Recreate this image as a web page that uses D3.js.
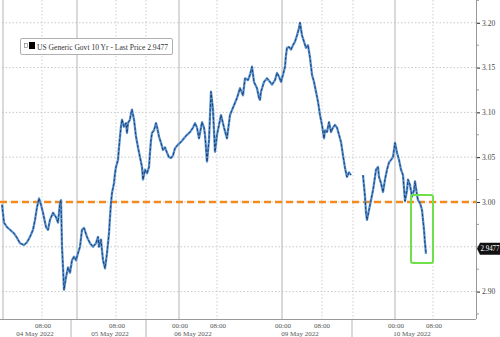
<!DOCTYPE html>
<html><head><meta charset="utf-8">
<script src="https://cdn.jsdelivr.net/npm/d3@7/dist/d3.min.js"></script>
<style>body{margin:0;background:#fff;}svg{display:block;font-family:"Liberation Sans",Arial,sans-serif;}</style>
</head><body><svg id="c" width="500" height="337"></svg>
<script>
// bar index (intraday session position) and yield values
const idx = [0,2,5,8,12,15,18,22,25,28,31,33,35,37,39,41,44,46,48,51,54,56,58,59,60,61,62,64,66,68,70,72,74,76,78,80,82,85,88,91,94,96,97,99,100,101,103,105,107,108,109,110,112,113,114,116,117,118,119,120,122,124,125,126,128,129,130,132,134,136,138,140,141,143,145,147,148,149,150,152,154,155,157,159,161,163,165,167,169,171,173,176,179,182,185,188,191,193,195,197,200,202,203,205,207,209,211,213,215,217,219,222,225,228,232,235,238,241,243,246,248,250,252,255,257,258,259,262,265,268,270,273,275,277,279,281,283,284,285,287,289,291,293,295,297,298,300,302,304,306,308,310,312,314,316,318,320,322,323,325,327,329,331,333,335,337,339,341,343,345,347,349,
  355,
  361,363,364,365,367,369,371,373,374,376,377,379,381,383,385,387,389,391,393,395,397,399,401,403,405,406,408,410,412,413,415,416,418,420,421,422,423,424];
const yld = [2.997,2.977,2.972,2.969,2.965,2.960,2.954,2.952,2.955,2.961,2.969,2.980,2.994,3.004,2.997,2.988,2.972,2.969,2.980,2.988,2.983,2.977,2.999,3.002,2.950,2.927,2.902,2.916,2.927,2.921,2.935,2.939,2.935,2.943,2.950,2.969,2.971,2.961,2.954,2.950,2.954,2.961,2.950,2.958,2.946,2.935,2.926,2.943,2.965,2.983,2.999,3.010,3.021,3.032,3.039,3.047,3.061,3.073,3.084,3.092,3.084,3.088,3.077,3.088,3.092,3.099,3.103,3.092,3.073,3.061,3.050,3.039,3.025,3.036,3.032,3.039,3.055,3.069,3.077,3.080,3.088,3.084,3.073,3.066,3.058,3.061,3.055,3.050,3.049,3.052,3.060,3.064,3.067,3.071,3.075,3.078,3.083,3.088,3.083,3.071,3.089,3.083,3.075,3.045,3.069,3.123,3.103,3.056,3.075,3.086,3.097,3.083,3.071,3.097,3.108,3.116,3.127,3.119,3.138,3.136,3.142,3.151,3.134,3.127,3.116,3.114,3.123,3.134,3.138,3.134,3.131,3.136,3.144,3.140,3.134,3.142,3.151,3.164,3.172,3.173,3.170,3.175,3.179,3.186,3.194,3.200,3.186,3.179,3.172,3.175,3.161,3.142,3.134,3.123,3.112,3.097,3.086,3.071,3.080,3.078,3.089,3.078,3.083,3.086,3.083,3.075,3.067,3.052,3.038,3.028,3.033,3.030,
  null,
  3.030,3.006,2.988,2.980,2.991,3.002,3.013,3.028,3.036,3.039,3.028,3.021,3.011,3.025,3.036,3.044,3.047,3.050,3.066,3.055,3.047,3.036,3.030,3.001,3.013,3.025,3.019,3.006,3.013,3.023,3.008,3.002,2.999,2.991,2.980,2.969,2.954,2.942];
const lastPrice = "2.9477";
const yTicks = [2.90, 2.95, 3.00, 3.05, 3.10, 3.15, 3.20];
const yLabelTicks = [2.90, 3.05, 3.10, 3.15, 3.20];
const yMinor = [2.875,2.925,2.975,3.025,3.075,3.125,3.175,3.225];
const dayIdx = [1, 75, 177, 280, 393];           // 00:00 session boundaries
const hourIdx = [40, 114, 144, 215, 320, 351, 431]; // intraday gridlines
const timeTicks = [{i:41,t:"08:00"},{i:115,t:"08:00"},{i:178,t:"00:00"},{i:216,t:"08:00"},{i:281,t:"00:00"},{i:320,t:"08:00"},{i:394,t:"00:00"},{i:432,t:"08:00"}];
const dateTicks = [{i:33,t:"04 May 2022"},{i:108,t:"05 May 2022"},{i:191,t:"06 May 2022"},{i:298,t:"09 May 2022"},{i:410,t:"10 May 2022"}];
const sepIdx = [69, 144, 350];
const threshold = 3.00;
const box = {i0:409, i1:431, v0:3.0078, v1:2.932};
const legendText = "US Generic Govt 10 Yr - Last Price 2.9477";

const svg = d3.select("#c");
const W=500,H=337, pL=2, pR=476, pT=0, pB=319;
const x = d3.scaleLinear().domain([0,474]).range([pL,pR]);
const y = d3.scaleLinear().domain([2.8694,3.2254]).range([pB,pT]);

// horizontal dotted grid
svg.append("g").selectAll("line").data(yTicks).join("line")
  .attr("x1",pL).attr("x2",pR).attr("y1",d=>y(d)).attr("y2",d=>y(d))
  .attr("stroke","#c8c8c8").attr("stroke-width",1).attr("stroke-dasharray","1.5,2");
// vertical grid
svg.append("g").selectAll("line").data(hourIdx).join("line")
  .attr("x1",d=>x(d)).attr("x2",d=>x(d)).attr("y1",pT).attr("y2",pB)
  .attr("stroke","#cfcfcf").attr("stroke-width",1).attr("stroke-dasharray","1.5,2");
svg.append("g").selectAll("line").data(dayIdx).join("line")
  .attr("x1",d=>x(d)).attr("x2",d=>x(d)).attr("y1",pT).attr("y2",pB)
  .attr("stroke","#b4b4b4").attr("stroke-width",1);
// separators below axis
svg.append("g").selectAll("line").data(sepIdx).join("line")
  .attr("x1",d=>x(d)).attr("x2",d=>x(d)).attr("y1",pB).attr("y2",H)
  .attr("stroke","#b4b4b4").attr("stroke-width",1);

// axes lines
svg.append("line").attr("x1",0).attr("x2",pR).attr("y1",pB+0.5).attr("y2",pB+0.5).attr("stroke","#999");
svg.append("line").attr("x1",pR+0.5).attr("x2",pR+0.5).attr("y1",0).attr("y2",pB).attr("stroke","#999");

// right axis
const ax = d3.axisRight(y).tickValues(yLabelTicks.concat([3.00])).tickSize(3).tickFormat(d3.format(".2f"));
const gA = svg.append("g").attr("transform",`translate(${pR+1},0)`).call(ax);
gA.select(".domain").remove();
gA.selectAll("line").attr("stroke","#222");
gA.selectAll("text").attr("font-size",7.5).attr("fill","#444").attr("x",5).attr("font-family","Liberation Serif, serif");
svg.append("g").selectAll("line").data(yMinor.concat([2.95])).join("line")
  .attr("x1",pR+1).attr("x2",pR+3).attr("y1",d=>y(d)).attr("y2",d=>y(d)).attr("stroke","#999");

// bottom labels
svg.append("g").selectAll("text").data(timeTicks).join("text")
  .attr("x",d=>x(d.i)).attr("y",328).attr("text-anchor","middle")
  .attr("font-size",7).attr("fill","#555").attr("font-family","Liberation Serif, serif").text(d=>d.t);
svg.append("g").selectAll("text").data(dateTicks).join("text")
  .attr("x",d=>x(d.i)).attr("y",336).attr("text-anchor","middle")
  .attr("font-size",7).attr("fill","#555").attr("font-family","Liberation Serif, serif").text(d=>d.t);

// threshold line
svg.append("line").attr("x1",0).attr("x2",pR).attr("y1",y(threshold)).attr("y2",y(threshold))
  .attr("stroke","#f48a1e").attr("stroke-width",2.5).attr("stroke-dasharray","7,4");

// series
const pts = idx.map((d,i)=>({i:d,v:yld[i]}));
const line = d3.line().defined(d=>d.v!==null).x(d=>x(d.i)).y(d=>y(d.v));
svg.append("path").datum(pts).attr("d",line).attr("fill","none").attr("stroke","#5a95d6").attr("stroke-width",2.3).attr("stroke-linejoin","round");
svg.append("path").datum(pts).attr("d",line).attr("fill","none").attr("stroke","#122a50").attr("stroke-width",0.8).attr("stroke-linejoin","round")
  .attr("stroke-dasharray","3,1.5");

// highlight box
svg.append("rect").attr("x",x(box.i0)).attr("y",y(box.v0))
  .attr("width",x(box.i1)-x(box.i0)).attr("height",y(box.v1)-y(box.v0))
  .attr("rx",2).attr("fill","none").attr("stroke","#6fe04a").attr("stroke-width",2);

// last price tag
const ly = y(+lastPrice);
svg.append("path").attr("d",`M${pR+1},${ly} L${pR+4},${ly-6} L${W},${ly-6} L${W},${ly+6} L${pR+4},${ly+6} Z`).attr("fill","#111");
svg.append("text").attr("x",pR+4.5).attr("y",ly+2.6).attr("font-size",7.2).attr("fill","#fff")
  .attr("font-family","Liberation Serif, serif").attr("textLength",19).attr("lengthAdjust","spacingAndGlyphs").text(lastPrice);

// legend
const lg = svg.append("g");
lg.append("rect").attr("x",20.5).attr("y",38.5).attr("width",152).attr("height",16).attr("rx",1.5)
  .attr("fill","#fff").attr("stroke","#b0b0b0");
lg.append("rect").attr("x",24.5).attr("y",43.5).attr("width",3).attr("height",4).attr("fill","none").attr("stroke","#888").attr("stroke-width",0.7);
lg.append("rect").attr("x",29).attr("y",42).attr("width",6).attr("height",7).attr("fill","#000");
lg.append("text").attr("x",37).attr("y",49.5).attr("font-size",7.2).attr("fill","#333")
  .attr("font-family","Liberation Serif, serif").attr("textLength",131).attr("lengthAdjust","spacingAndGlyphs").text(legendText);
</script></body></html>
